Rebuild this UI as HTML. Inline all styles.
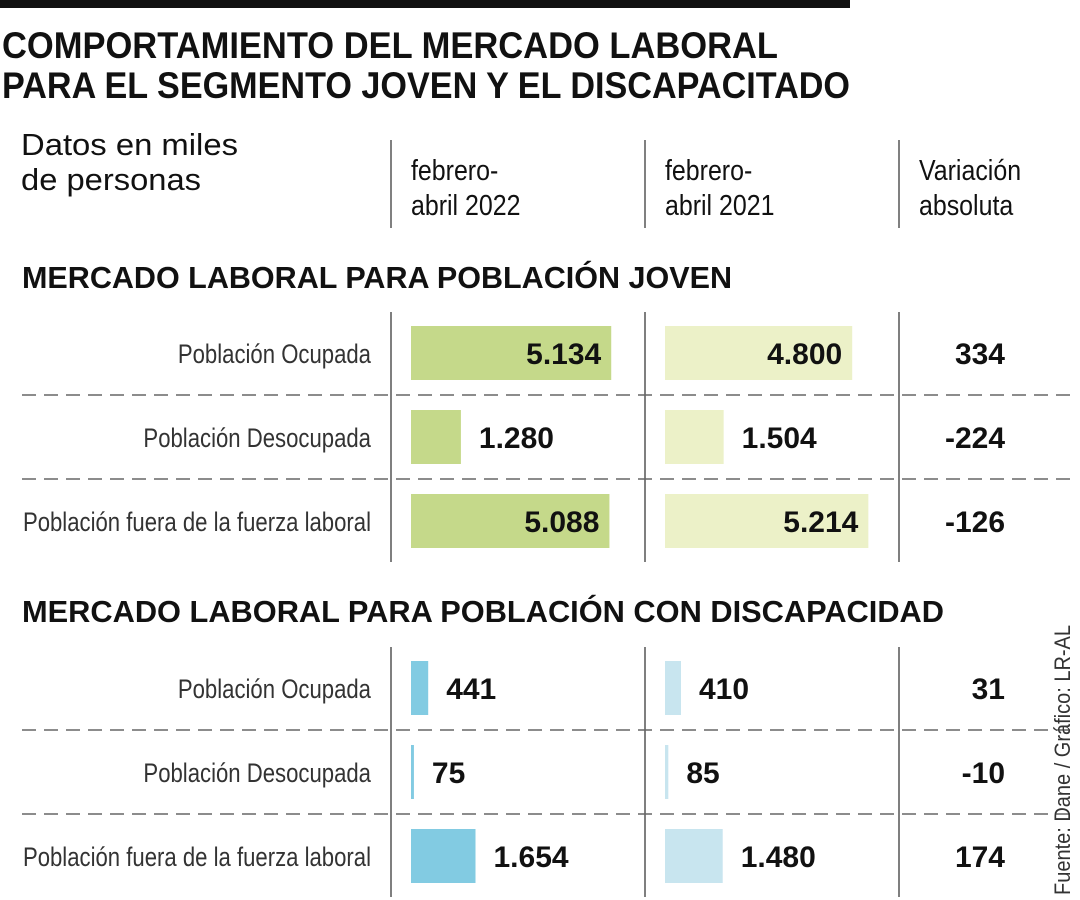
<!DOCTYPE html>
<html><head><meta charset="utf-8"><style>
html,body{margin:0;padding:0;background:#fff;}
svg{display:block;font-family:"Liberation Sans",sans-serif;}
</style></head><body>
<svg id="chart" width="1080" height="900" viewBox="0 0 1080 900">
<rect x="0" y="0" width="850" height="8" fill="#111"/>
<text x="2" y="58" font-size="37" font-weight="bold" textLength="776" lengthAdjust="spacingAndGlyphs" fill="#111">COMPORTAMIENTO DEL MERCADO LABORAL</text>
<text x="2" y="98" font-size="37" font-weight="bold" textLength="848" lengthAdjust="spacingAndGlyphs" fill="#111">PARA EL SEGMENTO JOVEN Y EL DISCAPACITADO</text>
<text x="21" y="155" font-size="31" textLength="217" lengthAdjust="spacingAndGlyphs" fill="#111">Datos en miles</text>
<text x="21" y="190" font-size="31" textLength="180" lengthAdjust="spacingAndGlyphs" fill="#111">de personas</text>
<g id="headers"></g>
<g id="body"></g>
<text transform="translate(1070,895) rotate(-90)" font-size="22" textLength="270" lengthAdjust="spacingAndGlyphs" fill="#333">Fuente: Dane / Gráfico: LR-AL</text>
</svg>
<script>
const rowLabels = ["Población Ocupada","Población Desocupada","Población fuera de la fuerza laboral"];
const joven2022 = [5134, 1280, 5088];
const joven2021 = [4800, 1504, 5214];
const joveVar = [334, -224, -126];
const disc2022 = [441, 75, 1654];
const disc2021 = [410, 85, 1480];
const discVar = [31, -10, 174];
const colHeaders = [["febrero-","abril 2022"],["febrero-","abril 2021"],["Variación","absoluta"]];

const NS="http://www.w3.org/2000/svg";
const svg=document.getElementById('chart');
const xScale=v=>v*0.039;
function mk(tag,attrs,parent,text){const e=document.createElementNS(NS,tag);for(const k in attrs)e.setAttribute(k,attrs[k]);if(text!==undefined)e.textContent=text;(parent||svg).appendChild(e);return e;}
const fmt=v=>{const s=Math.abs(v).toString();const t=s.length>3?s.slice(0,-3)+'.'+s.slice(-3):s;return (v<0?'-':'')+t;};
const colX=[411,665];
const vlines=[391,645,899];

const H=document.getElementById('headers');
colHeaders.forEach((h,i)=>{
  h.forEach((line,j)=>{
    const x=vlines[i]+20;
    const t=mk('text',{x:x,y:180+j*35,'font-size':29,fill:'#111',transform:`translate(${x},0) scale(0.86,1) translate(${-x},0)`},H,line);
    
    
  });
});
vlines.forEach(x=>{const l=mk('line',{x1:x,x2:x,y1:140,y2:228,stroke:'#555','stroke-width':1.5},H);

});

function section(title,titleY,titleW,top,a,b,v,c1,c2,key){
  const B=document.getElementById('body');
  const st=mk('text',{x:22,y:titleY,'font-size':31,'font-weight':'bold',fill:'#111',textLength:titleW,lengthAdjust:'spacingAndGlyphs'},B,title);
  
  
  vlines.forEach(x=>{const l=mk('line',{x1:x,x2:x,y1:top-14,y2:top+236,stroke:'#555','stroke-width':1.5},B);
  
  });
  [0,1].forEach(k=>{const y=top+69+k*84;const l=mk('line',{x1:22,x2:1078,y1:y,y2:y,stroke:'#666','stroke-width':1.5,'stroke-dasharray':'14,8'},B);
  
  });
  rowLabels.forEach((lab,i)=>{
    const y0=top+i*84;
    const cy=y0+27;
    const t=mk('text',{x:371,y:cy+10,'font-size':27,fill:'#333','text-anchor':'end',transform:`translate(371,0) scale(0.82,1) translate(-371,0)`},B,lab);
    
    
    [[a,c1,0],[b,c2,1]].forEach(([arr,col,ci])=>{
      const w=xScale(arr[i]);
      const r=mk('rect',{x:colX[ci],y:y0,width:Math.max(w,1.5),height:54,fill:col},B);
      
      
      const inside=w>120;
      const tx=inside?colX[ci]+w-10:colX[ci]+w+18;
      const vt=mk('text',{x:tx,y:cy+11,'font-size':30,'font-weight':'bold',fill:'#111','text-anchor':inside?'end':'start'},B,fmt(arr[i]));
      
      
    });
    const vv=mk('text',{x:1005,y:cy+11,'font-size':30,'font-weight':'bold',fill:'#111','text-anchor':'end'},B,fmt(v[i]));
    
    
  });
}
section("MERCADO LABORAL PARA POBLACIÓN JOVEN",288,710,326,joven2022,joven2021,joveVar,'#c5d98a','#ecf1c8','joven');
section("MERCADO LABORAL PARA POBLACIÓN CON DISCAPACIDAD",622,922,661,disc2022,disc2021,discVar,'#82cbe2','#c8e5ef','disc');
</script>
</body></html>
